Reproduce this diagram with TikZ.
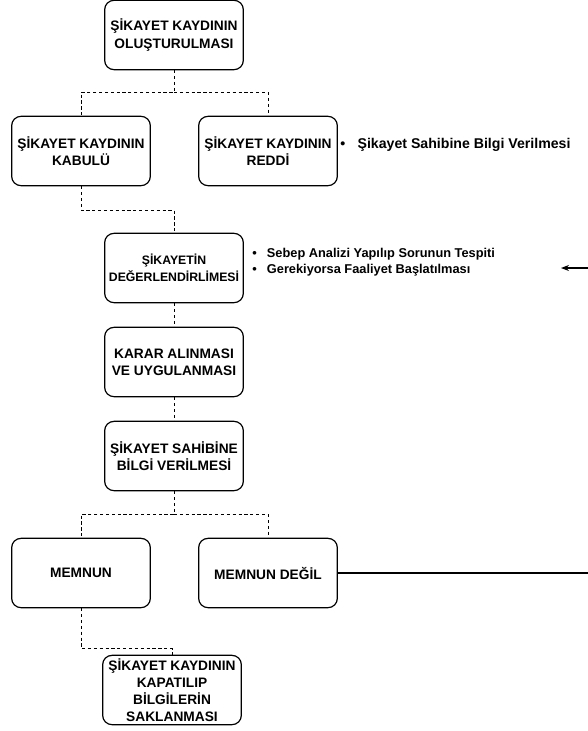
\documentclass[tikz,border=0pt]{standalone}
\usepackage{fontspec}
\setmainfont{Liberation Sans}
\usetikzlibrary{arrows.meta, positioning, calc}

\begin{document}
\begin{tikzpicture}[
  x=0.75pt, y=-0.75pt,
  box/.style={draw, line width=0.9pt, rounded corners=7pt, minimum width=104pt, minimum height=52pt, align=center, font=\fontsize{10.3}{12.9}\selectfont\bfseries, inner sep=1pt},
  note/.style={align=left, font=\fontsize{9.6}{12.3}\selectfont\bfseries, inner sep=0pt},
  link/.style={dashed, dash pattern=on 2.4pt off 2pt, line width=0.6pt},
  arrow/.style={-{Stealth[length=6pt, width=4.5pt]}, line width=0.8pt}
]
\useasboundingbox (0,0) rectangle (588,731);

\node[box] (olus) at (174, 35) {ŞİKAYET KAYDININ\\OLUŞTURULMASI};
\node[box] (kabul) at (81, 151) {ŞİKAYET KAYDININ\\KABULÜ};
\node[box] (red) at (268, 151) {ŞİKAYET KAYDININ\\REDDİ};
\node[box, font=\fontsize{9.2}{12.9}\selectfont\bfseries, inner sep=0pt] (deger) at (174, 268) {ŞİKAYETİN\\DEĞERLENDİRLİMESİ};
\node[box] (karar) at (174, 362) {KARAR ALINMASI\\VE UYGULANMASI};
\node[box] (bilgi) at (174, 456) {ŞİKAYET SAHİBİNE\\BİLGİ VERİLMESİ};
\node[box] (memnun) at (81, 573) {MEMNUN};
\node[box] (degil) at (268, 573) {MEMNUN DEĞİL};
\node[box] (kapat) at (172, 690) {ŞİKAYET KAYDININ\\KAPATILIP\\BİLGİLERİN\\SAKLANMASI};

% bullet notes
\node[note, anchor=west, font=\fontsize{10.6}{12.9}\selectfont\bfseries] (redNote) at (340, 145) {\makebox[13pt][l]{•}Şikayet Sahibine Bilgi Verilmesi};
\node[note, anchor=west] (degerNote) at (252, 262) {\makebox[11pt][l]{•}Sebep Analizi Yapılıp Sorunun Tespiti\\\makebox[11pt][l]{•}Gerekiyorsa Faaliyet Başlatılması};

% dashed tree links
\draw[link] (olus.south) -- ++(0,22) coordinate (split1) -| (kabul.north);
\draw[link] (split1) -| (red.north);
\draw[link] (kabul.south) -- ++(0,24) -| (deger.north);
\draw[link] (deger) -- (karar);
\draw[link] (karar) -- (bilgi);
\draw[link] (bilgi.south) -- ++(0,23) coordinate (split2) -| (memnun.north);
\draw[link] (split2) -| (degil.north);
\draw[link] (memnun.south) -- ++(0,40) -| (kapat.north);

% loop back (cut at the edge)
\coordinate (edgeLow) at (588, 573);
\coordinate (edgeHigh) at (588, 268);
\coordinate (backTip) at (561, 268);
\draw[line width=0.8pt] (degil.east) -- (edgeLow);
\draw[arrow] (edgeHigh) -- (backTip);
\end{tikzpicture}
\end{document}
